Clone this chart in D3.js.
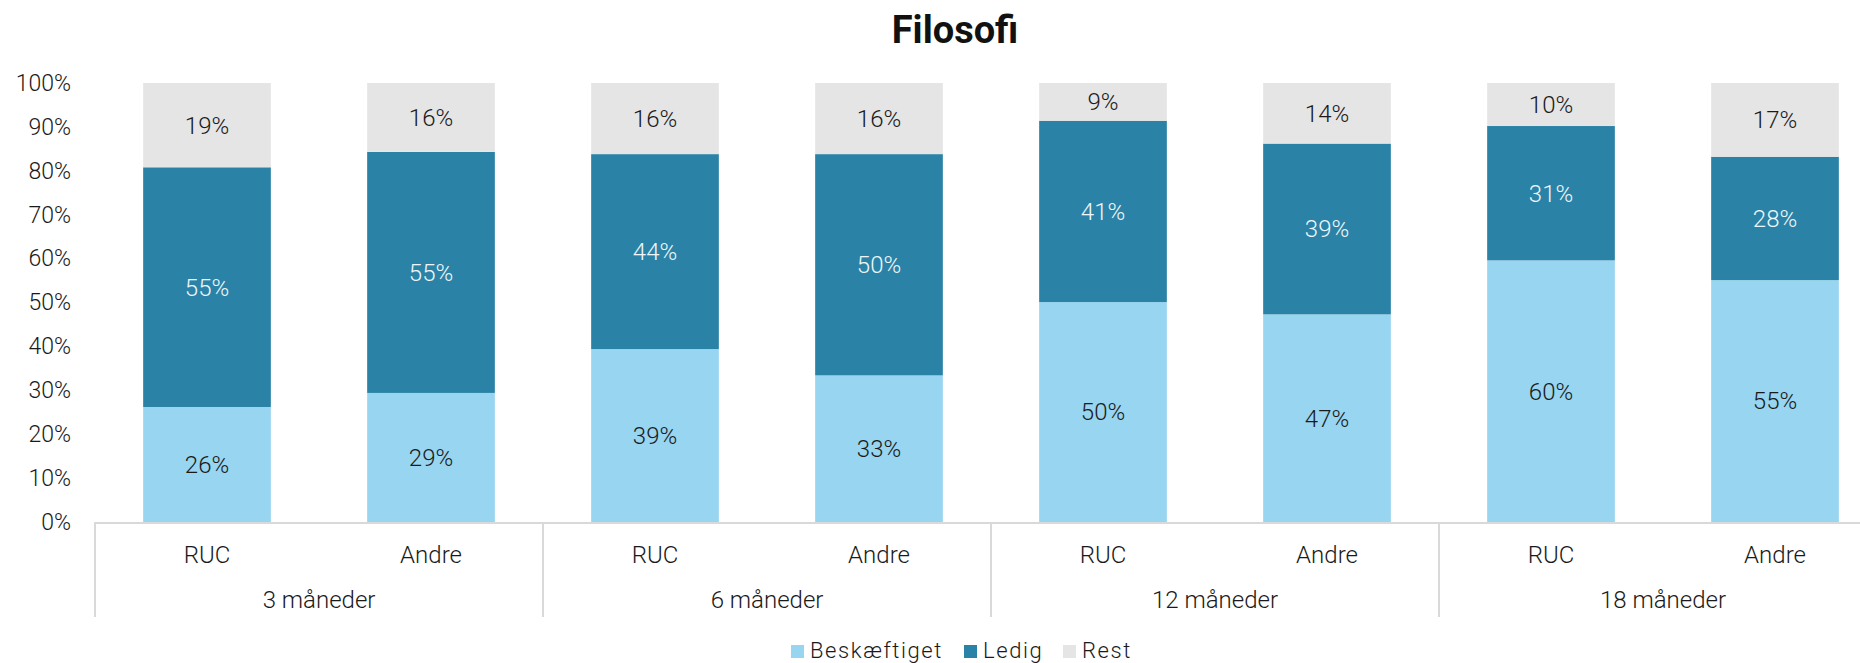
<!DOCTYPE html>
<html>
<head>
<meta charset="utf-8">
<script src="https://cdn.jsdelivr.net/npm/d3@7"></script>
<style>
  html, body { margin: 0; padding: 0; background: #fff; }
  svg { display: block; font-family: Roboto, sans-serif; }
</style>
</head>
<body>
<div id="chart"></div>
<script>
'use strict';

// Data (percent of graduates)
const periods = ['3 måneder', '6 måneder', '12 måneder', '18 måneder'];
const groups = ['RUC', 'Andre'];
const seriesNames = ['Beskæftiget', 'Ledig', 'Rest'];
const beskaeftiget = [26.2, 29.4, 39.4, 33.4, 50.1, 47.3, 59.6, 55.1];
const ledig = [54.6, 54.9, 44.4, 50.4, 41.3, 38.9, 30.6, 28.1];
const rest = [19.2, 15.7, 16.2, 16.2, 8.6, 13.8, 9.8, 16.8];
const yTicks = [0, 10, 20, 30, 40, 50, 60, 70, 80, 90, 100];

const colors = ['#97d5f0', '#2a82a6', '#e5e5e5'];
const labelColors = ['#1a1a1a', '#eef6fa', '#1a1a1a'];

const width = 1860;
const height = 663;
const plot = { left: 95, right: 1887, top: 83, bottom: 522 };

// one row per bar, keyed by period + group
const rows = [];
periods.forEach((p, i) => {
  groups.forEach((g, j) => {
    const k = i * groups.length + j;
    rows.push({
      key: `${p}|${g}`,
      period: p,
      group: g,
      Beskæftiget: beskaeftiget[k],
      Ledig: ledig[k],
      Rest: rest[k],
    });
  });
});

const svg = d3.select('#chart')
  .append('svg')
  .attr('width', width)
  .attr('height', height);

const x = d3.scaleBand()
  .domain(rows.map((d) => d.key))
  .range([plot.left, plot.right])
  .paddingInner(0.43)
  .paddingOuter(0.215);

const xGroup = d3.scaleBand()
  .domain(periods)
  .range([plot.left, plot.right]);

const y = d3.scaleLinear()
  .domain([0, 100])
  .range([plot.bottom, plot.top]);

const color = d3.scaleOrdinal().domain(seriesNames).range(colors);

// Title
svg.append('text')
  .attr('x', 955)
  .attr('y', 43)
  .attr('text-anchor', 'middle')
  .style('font-size', '38px')
  .style('font-weight', 700)
  .style('fill', '#111')
  .text('Filosofi');

// Y axis labels (no axis line, no gridlines)
const yAxis = d3.axisLeft(y)
  .tickValues(yTicks)
  .tickFormat((d) => `${d}%`)
  .tickSize(0)
  .tickPadding(0);

svg.append('g')
  .attr('transform', 'translate(71,0)')
  .call(yAxis)
  .call((g) => g.select('.domain').remove())
  .call((g) => g.selectAll('text')
    .style('font-family', 'Roboto, sans-serif')
    .style('font-size', '23px')
    .style('font-weight', 300)
    .style('fill', '#1a1a1a'));

// Stacked bars
const stacked = d3.stack().keys(seriesNames)(rows);

const layers = svg.append('g')
  .selectAll('g')
  .data(stacked)
  .join('g')
  .attr('fill', (d) => color(d.key));

layers.selectAll('rect')
  .data((d) => d)
  .join('rect')
  .attr('x', (d) => x(d.data.key))
  .attr('y', (d) => y(d[1]))
  .attr('width', x.bandwidth())
  .attr('height', (d) => y(d[0]) - y(d[1]));

// Value labels centred in each segment
stacked.forEach((layer, li) => {
  svg.append('g')
    .selectAll('text')
    .data(layer)
    .join('text')
    .attr('x', (d) => x(d.data.key) + x.bandwidth() / 2)
    .attr('y', (d) => y((d[0] + d[1]) / 2))
    .attr('dy', '0.35em')
    .attr('text-anchor', 'middle')
    .style('font-size', '24px')
    .style('font-weight', 300)
    .style('fill', labelColors[li])
    .text((d) => `${Math.round(d[1] - d[0])}%`);
});

// Multi-level category axis
const axisColor = '#d9d9d9';

svg.append('line')
  .attr('x1', plot.left)
  .attr('x2', plot.right)
  .attr('y1', plot.bottom + 1)
  .attr('y2', plot.bottom + 1)
  .attr('stroke', axisColor)
  .attr('stroke-width', 2);

svg.append('g')
  .selectAll('line')
  .data(periods)
  .join('line')
  .attr('x1', (d) => xGroup(d))
  .attr('x2', (d) => xGroup(d))
  .attr('y1', plot.bottom)
  .attr('y2', 617)
  .attr('stroke', axisColor)
  .attr('stroke-width', 2);

svg.append('g')
  .selectAll('text')
  .data(rows)
  .join('text')
  .attr('x', (d) => x(d.key) + x.bandwidth() / 2)
  .attr('y', 563)
  .attr('text-anchor', 'middle')
  .style('font-size', '24px')
  .style('font-weight', 300)
  .style('fill', '#1a1a1a')
  .text((d) => d.group);

svg.append('g')
  .selectAll('text')
  .data(periods)
  .join('text')
  .attr('x', (d) => xGroup(d) + xGroup.bandwidth() / 2)
  .attr('y', 608)
  .attr('text-anchor', 'middle')
  .style('font-size', '24px')
  .style('font-weight', 300)
  .style('fill', '#1a1a1a')
  .text((d) => d);

// Legend
const legendItems = [
  { name: 'Beskæftiget', x: 791 },
  { name: 'Ledig', x: 964 },
  { name: 'Rest', x: 1063 },
];

const legend = svg.append('g');

legend.selectAll('rect')
  .data(legendItems)
  .join('rect')
  .attr('x', (d) => d.x)
  .attr('y', 645)
  .attr('width', 13)
  .attr('height', 13)
  .attr('fill', (d) => color(d.name));

legend.selectAll('text')
  .data(legendItems)
  .join('text')
  .attr('x', (d) => d.x + 19)
  .attr('y', 658)
  .style('font-size', '22px')
  .style('font-weight', 300)
  .style('letter-spacing', '1.6px')
  .style('fill', '#1a1a1a')
  .text((d) => d.name);
</script>
</body>
</html>
